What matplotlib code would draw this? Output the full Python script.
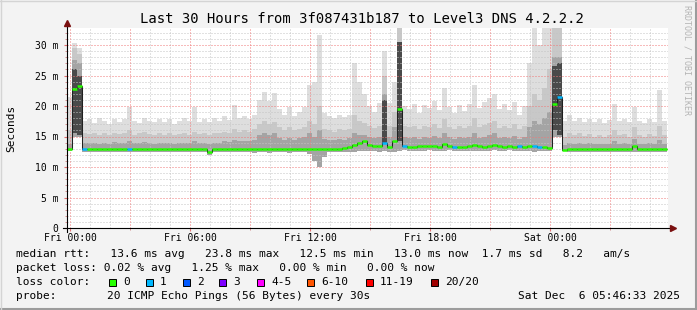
import numpy as np
import matplotlib
matplotlib.use("Agg")
import matplotlib.pyplot as plt
from matplotlib.patches import Rectangle
from matplotlib.lines import Line2D

# 15 minute bins, hours counted from Fri 00:00
t_start = -0.15
bin_h = 0.25

# smoke: highest ping (light), upper of medium band, upper of dark band, lowest ping
hi = [21.5, 30.3, 29.5, 17.5, 17.8, 17.2, 18.0, 17.6, 17.0, 17.8, 17.4, 17.9, 19.9, 17.5, 17.2, 18.1, 17.6, 17.3, 17.9, 17.4,
      17.8, 17.1, 17.6, 18.0, 17.5, 19.9, 17.4, 17.8, 17.3, 18.0, 17.6, 18.3, 17.7, 20.2, 18.0, 18.4, 17.9, 18.5, 21.0, 22.3,
      20.8, 22.2, 19.5, 18.6, 19.8, 18.4, 19.0, 19.9, 23.4, 24.0, 31.6, 18.9, 18.4, 18.1, 18.6, 18.2, 18.5, 27.0, 24.0, 22.0,
      20.0, 19.0, 20.5, 29.0, 20.5, 24.0, 32.8, 20.0, 19.5, 20.3, 18.8, 20.2, 19.6, 20.8, 19.4, 23.0, 19.8, 18.8, 20.1, 19.2,
      20.4, 23.4, 19.6, 20.6, 21.3, 22.0, 19.5, 20.4, 19.4, 20.7, 18.6, 20.0, 27.0, 32.8, 30.0, 32.8, 32.8, 32.8, 32.8, 17.5,
      18.5, 17.6, 18.0, 17.4, 17.9, 17.3, 17.8, 17.2, 17.7, 20.3, 17.5, 17.9, 17.3, 19.8, 17.6, 17.2, 17.8, 17.4, 22.6, 17.5]
mid = [16.0, 29.5, 28.5, 15.5, 15.4, 15.6, 15.3, 15.5, 15.2, 15.6, 15.4, 15.5, 16.0, 15.3, 15.5, 15.7, 15.4, 15.2, 15.6, 15.3,
       15.5, 15.2, 15.4, 15.6, 15.3, 15.8, 15.4, 15.5, 15.2, 15.6, 15.5, 15.8, 15.6, 16.2, 15.8, 16.0, 15.7, 16.2, 17.0, 17.5,
       17.0, 17.4, 16.5, 16.0, 16.5, 16.0, 16.3, 16.6, 17.5, 17.0, 20.0, 16.2, 16.0, 15.8, 16.2, 16.0, 16.3, 18.5, 17.5, 17.2,
       16.8, 16.4, 16.8, 25.0, 16.8, 19.0, 32.8, 16.8, 16.5, 16.8, 16.2, 16.7, 16.5, 17.0, 16.4, 17.8, 16.6, 16.2, 16.8, 16.4,
       16.8, 18.0, 16.5, 16.9, 17.2, 17.5, 16.4, 16.8, 16.4, 17.0, 16.2, 16.8, 20.0, 22.0, 21.0, 23.0, 26.0, 32.8, 32.8, 15.0,
       15.6, 15.2, 15.5, 15.1, 15.4, 15.0, 15.3, 15.0, 15.3, 16.0, 15.2, 15.4, 15.0, 16.5, 15.3, 15.0, 15.4, 15.1, 16.8, 15.2]
dk = [13.8, 27.5, 27.0, 14.0, 13.9, 14.0, 13.8, 14.0, 13.8, 14.1, 13.9, 14.0, 14.2, 13.9, 14.0, 14.1, 13.9, 13.8, 14.0, 13.9,
      14.0, 13.8, 13.9, 14.0, 13.9, 14.2, 13.9, 14.0, 13.8, 14.0, 14.0, 14.2, 14.1, 14.4, 14.2, 14.3, 14.2, 14.5, 15.2, 15.6,
      15.2, 15.5, 14.8, 14.5, 14.8, 14.5, 14.7, 14.9, 15.5, 15.0, 16.0, 14.6, 14.5, 14.4, 14.6, 14.5, 14.7, 15.5, 15.2, 15.3,
      14.9, 14.7, 14.9, 22.0, 14.9, 16.5, 30.0, 14.9, 14.7, 14.9, 14.6, 14.9, 14.8, 15.1, 14.7, 15.5, 14.9, 14.6, 15.0, 14.7,
      15.0, 15.6, 14.8, 15.0, 15.3, 15.5, 14.8, 15.0, 14.8, 15.1, 14.6, 15.0, 16.5, 17.5, 17.0, 18.0, 19.0, 28.0, 28.0, 13.6,
      14.0, 13.8, 13.9, 13.7, 13.9, 13.7, 13.8, 13.7, 13.8, 14.2, 13.8, 13.9, 13.7, 14.6, 13.8, 13.7, 13.9, 13.7, 14.5, 13.8]
lo = [12.6, 15.0, 15.0, 12.5, 12.4, 12.5, 12.5, 12.4, 12.5, 12.5, 12.4, 12.5, 12.5, 12.4, 12.5, 12.5, 12.5, 12.4, 12.5, 12.5,
      12.4, 12.5, 12.5, 12.5, 12.4, 12.5, 12.5, 12.4, 12.0, 12.4, 12.5, 12.4, 12.5, 12.5, 12.4, 12.5, 12.4, 12.3, 12.5, 12.4,
      12.3, 12.4, 12.5, 12.4, 12.3, 12.4, 12.5, 12.4, 12.2, 11.0, 10.0, 11.6, 12.4, 12.5, 12.4, 12.5, 12.4, 12.5, 12.6, 12.7,
      12.6, 12.6, 12.5, 12.6, 12.5, 12.4, 12.6, 12.8, 12.7, 12.7, 12.6, 12.7, 12.8, 12.7, 12.6, 12.7, 12.8, 12.7, 12.7, 12.6,
      12.7, 12.7, 12.6, 12.7, 12.7, 12.8, 12.7, 12.7, 12.8, 12.7, 12.6, 12.7, 12.6, 12.5, 12.6, 12.6, 12.7, 15.0, 15.0, 12.8,
      12.5, 12.4, 12.5, 12.4, 12.5, 12.4, 12.4, 12.5, 12.4, 12.5, 12.4, 12.5, 12.4, 12.5, 12.4, 12.5, 12.4, 12.5, 12.4, 12.5]
# median rtt (ms) and lost pings (of 20) per bin
med = [13.0, 22.8, 23.3, 13.0, 13.0, 13.0, 13.0, 13.0, 13.0, 13.0, 13.0, 13.0, 13.0, 13.0, 13.0, 13.0, 13.0, 13.0, 13.0, 13.0,
       13.0, 13.0, 13.0, 13.0, 13.0, 13.0, 13.0, 13.0, 12.4, 13.0, 13.0, 13.0, 13.0, 13.0, 13.0, 13.0, 13.0, 13.0, 13.0, 13.0,
       13.0, 13.0, 13.0, 13.0, 13.0, 13.0, 13.0, 13.0, 13.0, 13.0, 13.0, 13.0, 13.0, 13.0, 13.0, 13.1, 13.2, 13.6, 14.0, 14.2,
       13.6, 13.4, 13.4, 14.0, 13.3, 14.2, 19.5, 13.4, 13.3, 13.3, 13.4, 13.4, 13.5, 13.5, 13.3, 13.7, 13.5, 13.3, 13.3, 13.3,
       13.5, 13.6, 13.4, 13.3, 13.5, 13.6, 13.4, 13.3, 13.4, 13.3, 13.4, 13.3, 13.4, 13.5, 13.3, 13.2, 13.1, 20.4, 21.5, 12.8,
       12.9, 12.9, 13.0, 13.0, 12.9, 13.0, 13.0, 12.9, 13.0, 13.0, 12.9, 13.0, 13.0, 13.4, 13.0, 12.9, 13.0, 13.0, 13.0, 13.0]
loss = [0, 0, 0, 1, 0, 0, 0, 0, 0, 0, 0, 0, 1, 0, 0, 0, 0, 0, 0, 0,
        0, 0, 0, 0, 0, 0, 0, 0, 0, 0, 0, 0, 0, 0, 0, 0, 0, 0, 0, 0,
        0, 0, 0, 0, 0, 0, 0, 0, 0, 0, 0, 0, 0, 0, 0, 0, 0, 0, 0, 0,
        0, 0, 0, 1, 0, 0, 0, 1, 0, 0, 0, 0, 0, 0, 0, 0, 0, 1, 0, 0,
        0, 0, 0, 0, 0, 0, 0, 0, 0, 0, 1, 0, 0, 1, 1, 0, 0, 0, 1, 0,
        0, 0, 0, 0, 0, 0, 0, 0, 0, 0, 0, 0, 0, 0, 0, 0, 0, 0, 0, 0]
# dark smoke during the spikes
core_bins = [1, 2, 63, 66, 97, 98]
core_lo = [15.5, 15.2, 13.8, 14.2, 16.0, 15.2]
core_hi = [26.0, 25.0, 21.0, 30.5, 26.5, 27.0]

loss_labels = ["0", "1", "2", "3", "4-5", "6-10", "11-19", "20/20"]
loss_upper = [0, 1, 2, 3, 5, 10, 19, 20]
loss_colors = ["#26ff00", "#00b8ff", "#0059ff", "#7e00ff", "#ff00ff", "#ff5500", "#ff0000", "#a00000"]

xtick_pos = [0, 6, 12, 18, 24]
xtick_labels = ["Fri 00:00", "Fri 06:00", "Fri 12:00", "Fri 18:00", "Sat 00:00"]
ytick_pos = [0, 5, 10, 15, 20, 25, 30]
ytick_labels = ["0", "5 m", "10 m", "15 m", "20 m", "25 m", "30 m"]

title = "Last 30 Hours from 3f087431b187 to Level3 DNS 4.2.2.2"
legend_rtt = "median rtt:   13.6 ms avg   23.8 ms max   12.5 ms min   13.0 ms now  1.7 ms sd   8.2   am/s"
legend_loss = "packet loss: 0.02 % avg   1.25 % max   0.00 % min   0.00 % now"
probe_text = "20 ICMP Echo Pings (56 Bytes) every 30s"
stamp = "Sat Dec  6 05:46:33 2025"

MONO = "DejaVu Sans Mono"
W, H = 697, 310
fig = plt.figure(figsize=(W / 100, H / 100), dpi=100)
fig.patch.set_facecolor("#f3f3f3")


def ftext(x, y, s, **kw):
    kw.setdefault("family", MONO)
    fig.text(x / W, 1 - y / H, s, **kw)


ax = fig.add_axes([67 / W, 1 - 228 / H, 601 / W, 200 / H])
ax.set_facecolor("white")
ax.set_xlim(-0.15, 29.9)
ax.set_ylim(0, 200 / 6.1)
for s in ax.spines.values():
    s.set_visible(False)

edges = t_start + bin_h * np.arange(len(hi) + 1)

# smoke
ax.stairs(hi, edges, baseline=lo, fill=True, color="#dedede", lw=0, zorder=1)
ax.stairs(mid, edges, baseline=lo, fill=True, color="#c8c8c8", lw=0, zorder=2)
ax.stairs(dk, edges, baseline=lo, fill=True, color="#a4a4a4", lw=0, zorder=3)
cb = np.array(core_bins)
ax.bar(edges[cb], np.array(core_hi) - np.array(core_lo), bottom=core_lo, width=bin_h,
       align="edge", color="#4a4a4a", lw=0, zorder=3.5)

# grid
dots = (0, (1, 2))
for h in np.arange(0, 30, 1):
    if h % 3:
        ax.axvline(h, color="#c4c4c4", lw=0.72, ls=dots, zorder=4)
for v in np.arange(0, 33, 1):
    if v % 5:
        ax.axhline(v, color="#c4c4c4", lw=0.72, ls=dots, zorder=4)
for h in np.arange(0, 30, 3):
    ax.axvline(h, color="#f07878", lw=0.72, ls=dots, zorder=4.5)
for v in np.arange(5, 33, 5):
    ax.axhline(v, color="#f07878", lw=0.72, ls=dots, zorder=4.5)

# median
ax.stairs(med, edges, baseline=None, color="#202020", lw=0.75, zorder=5)
cols = [loss_colors[next(k for k, u in enumerate(loss_upper) if l <= u)] for l in loss]
ax.hlines(med, edges[:-1], edges[1:], colors=cols, lw=1.8, zorder=6)

# ticks
ax.set_xticks(xtick_pos)
ax.set_xticklabels(xtick_labels, family=MONO, fontsize=7)
ax.set_xticks(np.arange(0, 30, 3), minor=True)
ax.set_yticks(ytick_pos)
ax.set_yticklabels(ytick_labels, family=MONO, fontsize=7)
ax.set_yticks(np.arange(0, 33, 1), minor=True)
ax.tick_params(axis="both", which="major", length=2, color="#e07070", pad=2)
ax.tick_params(axis="x", which="major", pad=1.5)
ax.tick_params(axis="y", which="major", pad=4)
ax.tick_params(axis="both", which="minor", length=1.5, color="#d08080")

# axis lines with arrows
ax.plot([-0.006, 1.009], [0, 0], color="black", lw=0.8, transform=ax.transAxes, clip_on=False, zorder=7)
ax.plot([0, 0], [-0.02, 1.025], color="black", lw=0.8, transform=ax.transAxes, clip_on=False, zorder=7)
ax.plot([1.009], [0], marker=">", ms=4, color="#7a1010", transform=ax.transAxes, clip_on=False, zorder=8)
ax.plot([0], [1.025], marker="^", ms=4, color="#7a1010", transform=ax.transAxes, clip_on=False, zorder=8)

# texts
ftext(362, 19, title, ha="center", va="center", fontsize=10)
ftext(11, 128, "Seconds", rotation=90, ha="center", va="center", fontsize=8)
ftext(687, 5, "RRDTOOL / TOBI OETIKER", rotation=270, ha="center", va="top", fontsize=6, color="#b4b4b4")
ftext(16, 254, legend_rtt, ha="left", va="center", fontsize=8)
ftext(16, 268, legend_loss, ha="left", va="center", fontsize=8)
ftext(16, 282, "loss color:", ha="left", va="center", fontsize=8)
box_x = [109, 146, 183, 219, 257, 307, 366, 431]
for bx, lab, c in zip(box_x, loss_labels, loss_colors):
    fig.add_artist(Rectangle((bx / W, 1 - 285.5 / H), 7 / W, 7 / H, facecolor=c,
                             edgecolor="black", lw=0.7, transform=fig.transFigure))
    ftext(bx + 14, 282, lab, ha="left", va="center", fontsize=8)
ftext(16, 296, "probe:", ha="left", va="center", fontsize=8)
ftext(107, 296, probe_text, ha="left", va="center", fontsize=8)
ftext(680, 296, stamp, ha="right", va="center", fontsize=8)

# frame shading
fig.add_artist(Line2D([0, 1], [1 - 309 / H] * 2, color="#9c9c9c", lw=1.5, transform=fig.transFigure))
fig.add_artist(Line2D([1 - 1 / W] * 2, [0, 1], color="#9c9c9c", lw=1.5, transform=fig.transFigure))
fig.add_artist(Line2D([0, 1], [1 - 0.5 / H] * 2, color="#d4d4d4", lw=1, transform=fig.transFigure))
fig.add_artist(Line2D([0.5 / W] * 2, [0, 1], color="#d4d4d4", lw=1, transform=fig.transFigure))

fig.savefig("out.png", dpi=100, facecolor=fig.get_facecolor())
